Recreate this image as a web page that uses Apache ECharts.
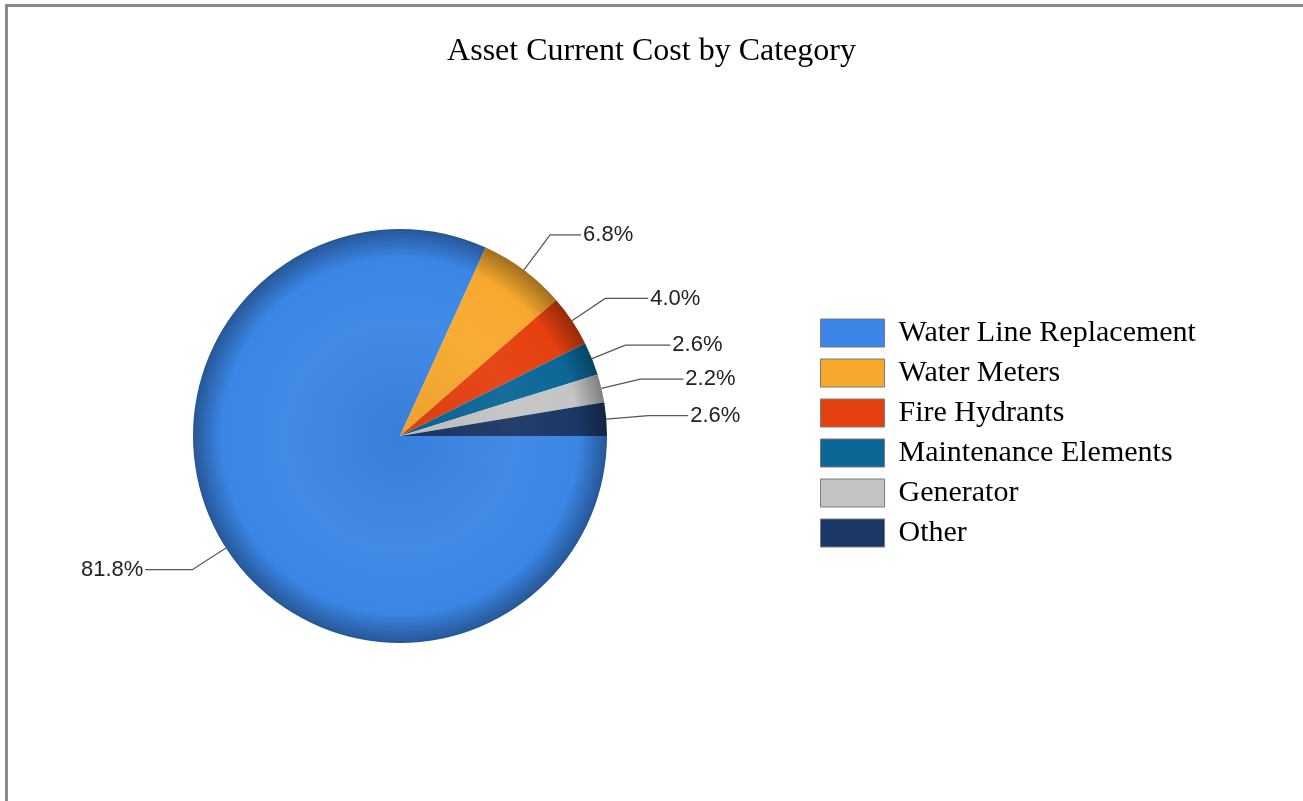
<!DOCTYPE html>
<html>
<head>
<meta charset="utf-8">
<script src="https://cdn.jsdelivr.net/npm/echarts@6/dist/echarts.min.js"></script>
<style>
  html, body { margin: 0; padding: 0; background: #ffffff; }
  #frame { position: absolute; left: 5px; top: 4px; width: 1298px; height: 797px;
           border-top: 3px solid #8a8a8a; border-left: 3px solid #8a8a8a; box-sizing: border-box; }
  #chart { position: absolute; left: 0; top: 0; width: 1303px; height: 801px; }
</style>
</head>
<body>
<div id="frame"></div>
<div id="chart"></div>
<script>
const titleText = 'Asset Current Cost by Category';
const categories = ['Water Line Replacement', 'Water Meters', 'Fire Hydrants', 'Maintenance Elements', 'Generator', 'Other'];
const values = [81.8, 6.8, 4.0, 2.6, 2.2, 2.6];
const colors = ['#3b86e6', '#f7a92e', '#e5400f', '#0c6797', '#c4c4c4', '#1b3766'];
const lineLen1 = [40, 44, 40, 36, 40, 42];
const lineLen2 = [47, 31, 43, 45, 43, 40];

const CX = 400, CY = 436, R = 207;

function shade(hex, f) {
  const n = parseInt(hex.slice(1), 16);
  const r = (n >> 16) & 255, g = (n >> 8) & 255, b = n & 255;
  const m = v => Math.max(0, Math.min(255, Math.round(f < 0 ? v * (1 + f) : v + (255 - v) * f)));
  return 'rgb(' + m(r) + ',' + m(g) + ',' + m(b) + ')';
}
function sliceFill(hex) {
  return {
    type: 'radial', x: CX, y: CY, r: R, global: true,
    colorStops: [
      { offset: 0, color: shade(hex, -0.05) },
      { offset: 0.55, color: shade(hex, 0.04) },
      { offset: 0.86, color: hex },
      { offset: 1, color: shade(hex, -0.35) }
    ]
  };
}

const chart = echarts.init(document.getElementById('chart'));
chart.setOption({
  animation: false,
  backgroundColor: 'transparent',
  title: {
    text: titleText,
    left: 'center',
    top: 31,
    textStyle: { fontFamily: 'Liberation Serif', fontSize: 32, fontWeight: 'normal', color: '#000' }
  },
  legend: {
    orient: 'vertical',
    left: 820,
    top: 318,
    padding: 0,
    itemWidth: 64,
    itemHeight: 28,
    itemGap: 10,
    icon: 'rect',
    data: categories.map((name, i) => ({ name: name, itemStyle: { color: colors[i] } })),
    itemStyle: { borderColor: '#7a7a7a', borderWidth: 1 },
    textStyle: { fontFamily: 'Liberation Serif', fontSize: 30, color: '#000', padding: [0, 0, 0, 9] }
  },
  series: [{
    type: 'pie',
    center: [CX, CY],
    radius: R,
    startAngle: 0,
    clockwise: true,
    avoidLabelOverlap: true,
    data: categories.map((name, i) => ({
      name: name,
      value: values[i],
      itemStyle: { color: sliceFill(colors[i]) },
      labelLine: { length: lineLen1[i], length2: lineLen2[i] }
    })),
    itemStyle: { borderWidth: 0 },
    label: {
      show: true,
      position: 'outside',
      formatter: p => p.value.toFixed(1) + '%',
      fontFamily: 'Liberation Sans',
      fontSize: 22,
      color: '#222',
      distanceToLabelLine: 2
    },
    labelLine: { show: true, lineStyle: { color: '#555', width: 1.2 } },
    emphasis: { disabled: true }
  }]
});
</script>
</body>
</html>
